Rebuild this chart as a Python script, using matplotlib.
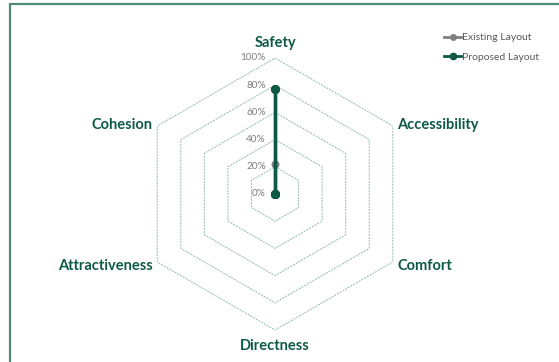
import numpy as np
import matplotlib.pyplot as plt
from matplotlib.patches import Rectangle
from matplotlib.lines import Line2D
from matplotlib import transforms

categories = ['Safety', 'Accessibility', 'Comfort', 'Directness', 'Attractiveness', 'Cohesion']
existing = [22, 0, 0, 0, 0, 0]
proposed = [77, 0, 0, 0, 0, 0]
ring_values = [20, 40, 60, 80, 100]
tick_labels = ['0%', '20%', '40%', '60%', '80%', '100%']

plt.rcParams['font.family'] = ['Lato', 'DejaVu Sans']

dark_green = '#0d5a44'
grey = '#808080'
grid_col = '#9cc0b3'


def closed(vals):
    return list(vals) + [vals[0]]


def main():
    fig = plt.figure(figsize=(5.59, 3.62), dpi=100)
    ax = fig.add_axes([0.2487, 0.0884, 0.4866, 0.7514], projection='polar')
    ax.set_theta_offset(np.pi / 2)
    ax.set_theta_direction(-1)
    ax.set_ylim(0, 100)
    ax.grid(False)
    ax.set_xticks([])
    ax.set_yticks([])
    ax.spines['polar'].set_visible(False)
    ax.patch.set_visible(False)

    angles = np.linspace(0, 2 * np.pi, len(categories), endpoint=False)
    ang_c = closed(angles)

    # hexagonal grid rings
    for r in ring_values:
        ax.plot(ang_c, [r] * len(ang_c), color=grid_col, lw=0.75,
                linestyle=(0, (2, 1)), zorder=1)

    # ring labels along the top axis
    off = transforms.offset_copy(ax.transData, fig=fig, x=-9, y=0, units='dots')
    for i, lab in enumerate(tick_labels):
        ax.text(0, i * 20, lab, transform=off, ha='right', va='center',
                fontsize=7.2, color='#7f7f7f')

    ax.plot(ang_c, closed(existing), color=grey, lw=2.2, marker='o', ms=4.5, zorder=3)
    ax.plot(ang_c, closed(proposed), color=dark_green, lw=2.4, marker='o', ms=5.5, zorder=4)

    # category labels
    label_pos = [(111, 'center', 'center'), (104, 'left', 'center_baseline'),
                 (104, 'left', 'center_baseline'), (112, 'center', 'center'),
                 (104, 'right', 'center_baseline'), (104, 'right', 'center_baseline')]
    for a, cat, (r, ha, va) in zip(angles, categories, label_pos):
        ax.text(a, r, cat, ha=ha, va=va, fontsize=10.5, fontweight='bold',
                color=dark_green, clip_on=False)

    handles = [Line2D([], [], color=grey, lw=2, marker='o', ms=4),
               Line2D([], [], color=dark_green, lw=2, marker='o', ms=4.5)]
    fig.legend(handles, ['Existing Layout', 'Proposed Layout'], loc='upper left',
               bbox_to_anchor=(0.778, 0.935), frameon=False, fontsize=7.5,
               handlelength=1.6, handletextpad=0.1, labelspacing=1.0,
               labelcolor='#595959')

    fig.patches.append(Rectangle((10 / 559, -0.1), 1.2, (362 - 4) / 362 + 0.1,
                                 transform=fig.transFigure, fill=False,
                                 edgecolor='#4f8a78', lw=1.6))

    fig.savefig('out.png', dpi=100)


if __name__ == '__main__':
    main()
